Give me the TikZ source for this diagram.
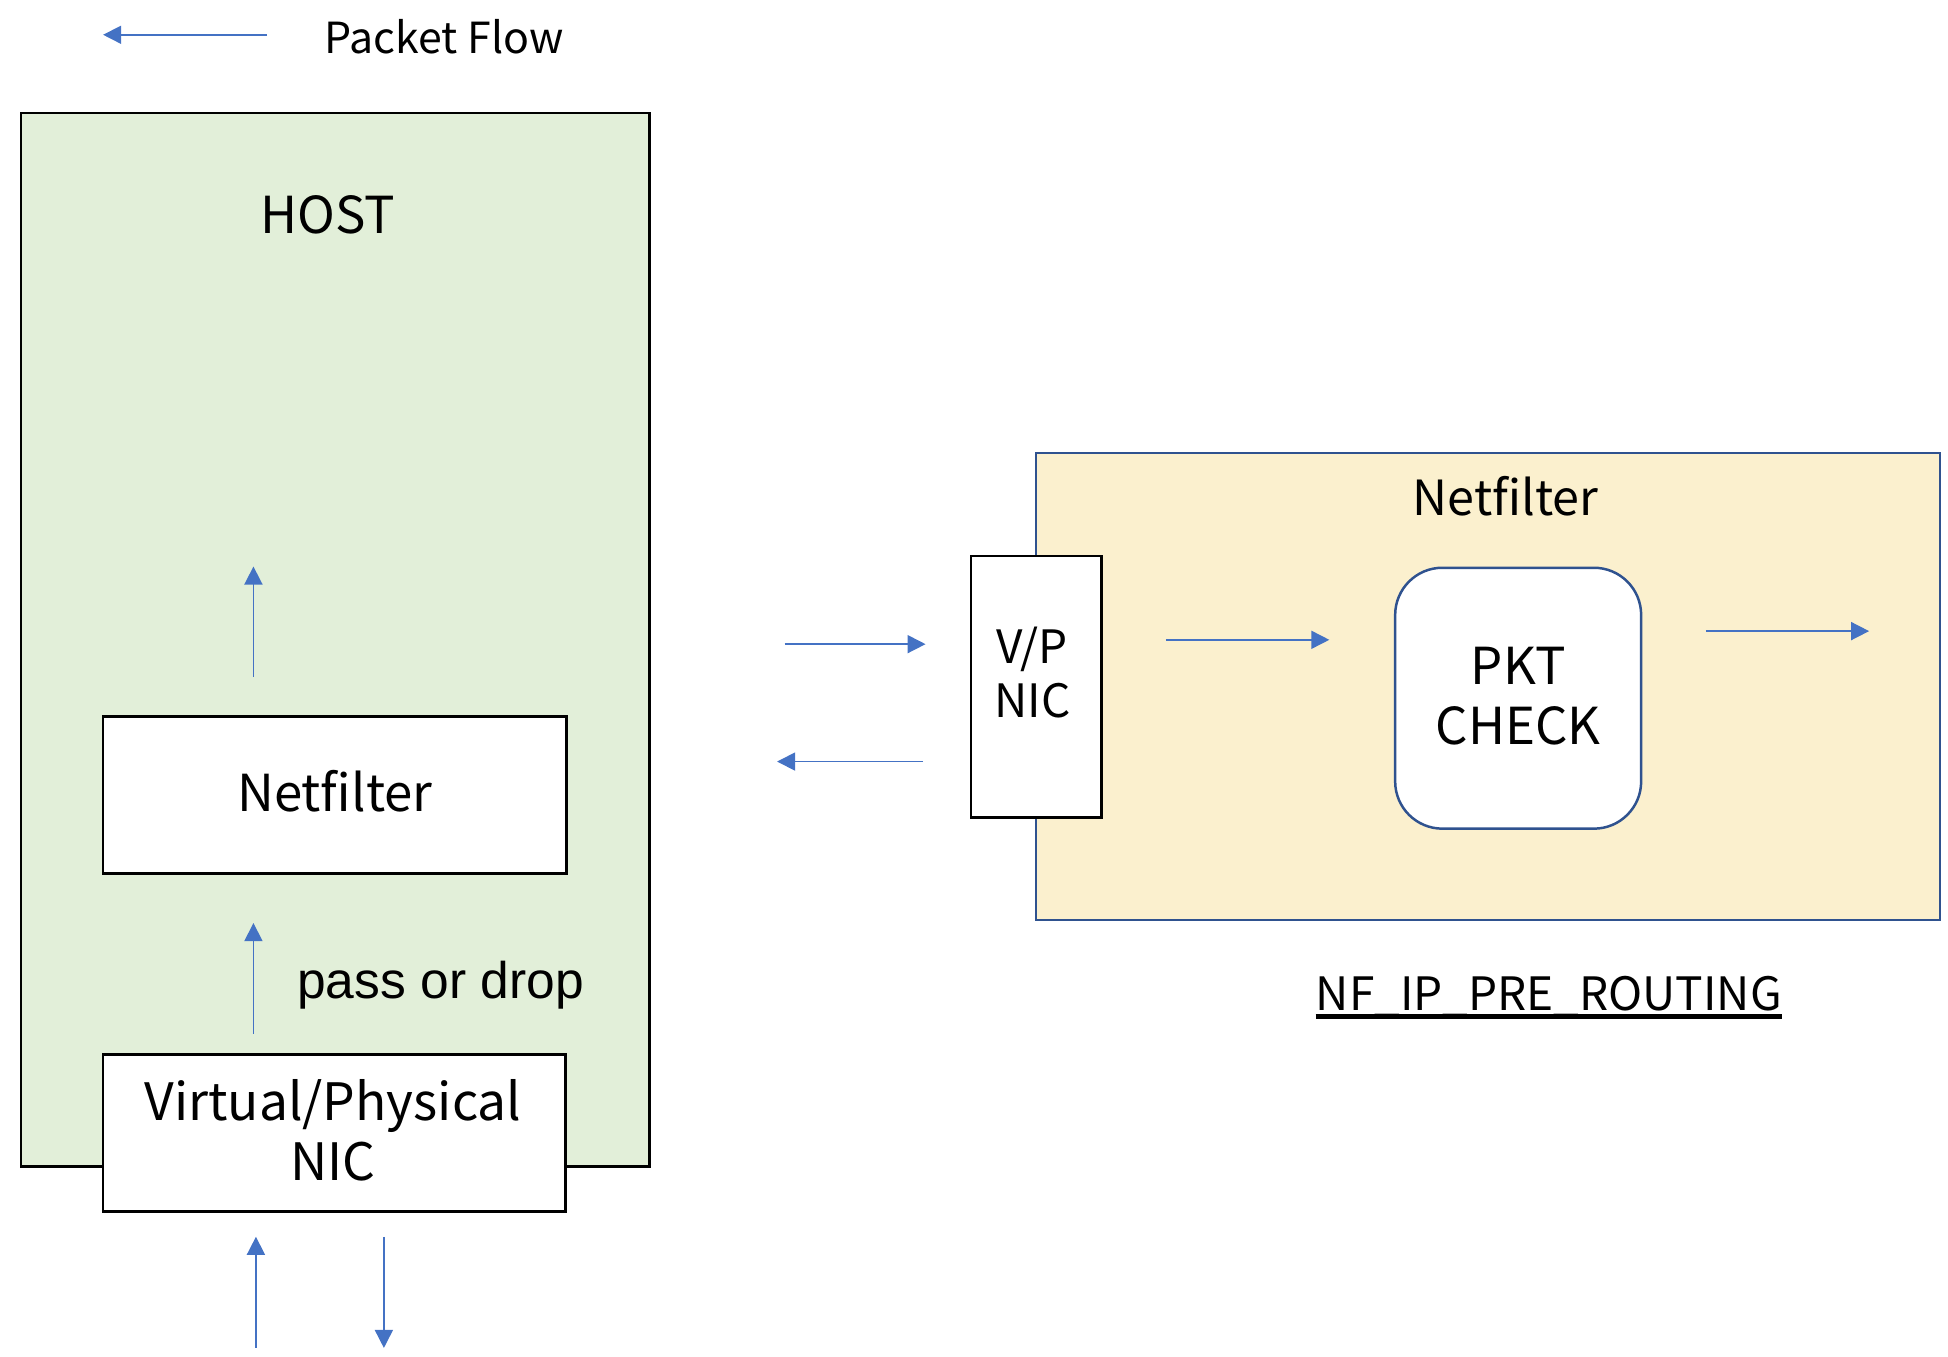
\documentclass[tikz,border=0pt]{standalone}
\usepackage{fontspec}
\setmainfont{Noto Sans CJK JP}
\newfontfamily\passfont{Liberation Sans}
\usetikzlibrary{arrows.meta}

\newlength{\du}
\setlength{\du}{1pt}

\definecolor{hostgreen}{rgb}{0.886275, 0.937255, 0.850980}
\definecolor{nfyellow}{rgb}{0.984314, 0.941176, 0.807843}
\definecolor{nfblue}{rgb}{0.184314, 0.321569, 0.560784}
\definecolor{flowblue}{rgb}{0.266667, 0.447059, 0.768627}

\tikzset{
  flowline/.style={draw=flowblue, line width=1.300000\du, -{Triangle[length=14.5pt,width=14.5pt]}},
  txt/.style={inner sep=0pt, text=black},
}

\begin{document}
\begin{tikzpicture}
\pgftransformxscale{1.000000}
\pgftransformyscale{-1.000000}
\useasboundingbox (0.000000\du,0.000000\du) rectangle (1568.000000\du,1091.500000\du);
% legend
\coordinate (legA) at (215.000000\du,28.000000\du);
\coordinate (legB) at (83.000000\du,28.000000\du);
\draw[flowline] (legA) -- (legB);
\node[txt, anchor=base west, font=\fontsize{34.5}{42}\selectfont] (legend) at (261.000000\du,43.000000\du){Packet Flow};
% host
\fill[hostgreen] (17.000000\du,91.000000\du)--(17.000000\du,939.000000\du)--(523.000000\du,939.000000\du)--(523.000000\du,91.000000\du)--cycle;
\draw[black, line width=2.200000\du, line join=miter] (17.000000\du,91.000000\du)--(17.000000\du,939.000000\du)--(523.000000\du,939.000000\du)--(523.000000\du,91.000000\du)--cycle;
\node[txt, anchor=base, font=\fontsize{41}{48}\selectfont] (host) at (264.000000\du,188.000000\du){HOST};
% host netfilter
\fill[white] (83.000000\du,577.000000\du)--(83.000000\du,703.000000\du)--(456.000000\du,703.000000\du)--(456.000000\du,577.000000\du)--cycle;
\draw[black, line width=2.200000\du, line join=miter] (83.000000\du,577.000000\du)--(83.000000\du,703.000000\du)--(456.000000\du,703.000000\du)--(456.000000\du,577.000000\du)--cycle;
\node[txt, anchor=base, font=\fontsize{41}{48}\selectfont] (hostnf) at (269.500000\du,653.000000\du){Netfilter};
\coordinate (upA) at (204.000000\du,545.000000\du);
\coordinate (upB) at (204.000000\du,456.000000\du);
\draw[flowline] (upA) -- (upB);
% host nic
\fill[white] (83.000000\du,849.000000\du)--(83.000000\du,975.000000\du)--(455.000000\du,975.000000\du)--(455.000000\du,849.000000\du)--cycle;
\draw[black, line width=2.200000\du, line join=miter] (83.000000\du,849.000000\du)--(83.000000\du,975.000000\du)--(455.000000\du,975.000000\du)--(455.000000\du,849.000000\du)--cycle;
\node[txt, align=center, font=\fontsize{41.5}{48}\selectfont] (hostnic) at (268.000000\du,910.000000\du){Virtual/Physical\\NIC};
\coordinate (passA) at (204.000000\du,832.000000\du);
\coordinate (passB) at (204.000000\du,743.000000\du);
\draw[flowline] (passA) -- (passB);
\node[txt, anchor=base west, font=\passfont\fontsize{41.5}{48}\selectfont] (pass) at (239.000000\du,803.500000\du){pass or drop};
\coordinate (inA) at (206.000000\du,1085.000000\du);
\coordinate (inB) at (206.000000\du,995.500000\du);
\draw[flowline] (inA) -- (inB);
\coordinate (outA) at (309.000000\du,995.500000\du);
\coordinate (outB) at (309.000000\du,1085.000000\du);
\draw[flowline] (outA) -- (outB);
% netfilter hook
\fill[nfyellow] (834.000000\du,364.500000\du)--(834.000000\du,740.500000\du)--(1561.500000\du,740.500000\du)--(1561.500000\du,364.500000\du)--cycle;
\draw[nfblue, line width=2.000000\du, line join=miter] (834.000000\du,364.500000\du)--(834.000000\du,740.500000\du)--(1561.500000\du,740.500000\du)--(1561.500000\du,364.500000\du)--cycle;
\node[txt, anchor=base, font=\fontsize{39}{46}\selectfont] (nf) at (1212.000000\du,415.000000\du){Netfilter};
% v/p nic
\fill[white] (781.500000\du,447.500000\du)--(781.500000\du,658.000000\du)--(886.500000\du,658.000000\du)--(886.500000\du,447.500000\du)--cycle;
\draw[black, line width=2.000000\du, line join=miter] (781.500000\du,447.500000\du)--(781.500000\du,658.000000\du)--(886.500000\du,658.000000\du)--(886.500000\du,447.500000\du)--cycle;
\node[txt, align=center, font=\fontsize{37}{43.5}\selectfont] (vpnic) at (831.000000\du,541.500000\du){V/P\\NIC};
\coordinate (rxA) at (631.500000\du,518.500000\du);
\coordinate (rxB) at (745.000000\du,518.500000\du);
\draw[flowline] (rxA) -- (rxB);
\coordinate (txA) at (743.000000\du,613.000000\du);
\coordinate (txB) at (625.500000\du,613.000000\du);
\draw[flowline] (txA) -- (txB);
\coordinate (chkA) at (938.500000\du,515.000000\du);
\coordinate (chkB) at (1070.000000\du,515.000000\du);
\draw[flowline] (chkA) -- (chkB);
% pkt check
\fill[white, rounded corners=38\du] (1123.000000\du,457.000000\du)--(1123.000000\du,667.000000\du)--(1321.000000\du,667.000000\du)--(1321.000000\du,457.000000\du)--cycle;
\draw[nfblue, line width=2.000000\du, rounded corners=38\du] (1123.000000\du,457.000000\du)--(1123.000000\du,667.000000\du)--(1321.000000\du,667.000000\du)--(1321.000000\du,457.000000\du)--cycle;
\node[txt, align=center, font=\fontsize{41}{48.3}\selectfont] (pkt) at (1222.000000\du,560.500000\du){PKT\\CHECK};
\coordinate (fwdA) at (1373.000000\du,508.000000\du);
\coordinate (fwdB) at (1504.500000\du,508.000000\du);
\draw[flowline] (fwdA) -- (fwdB);
% hook name
\node[txt, anchor=base west, text depth=5.000000\du, font=\fontsize{37}{43}\selectfont] (hook) at (1059.000000\du,813.000000\du){NF\_IP\_PRE\_ROUTING};
\draw[black, line width=3.800000\du] (hook.south west) -- (hook.south east);
\end{tikzpicture}
\end{document}
